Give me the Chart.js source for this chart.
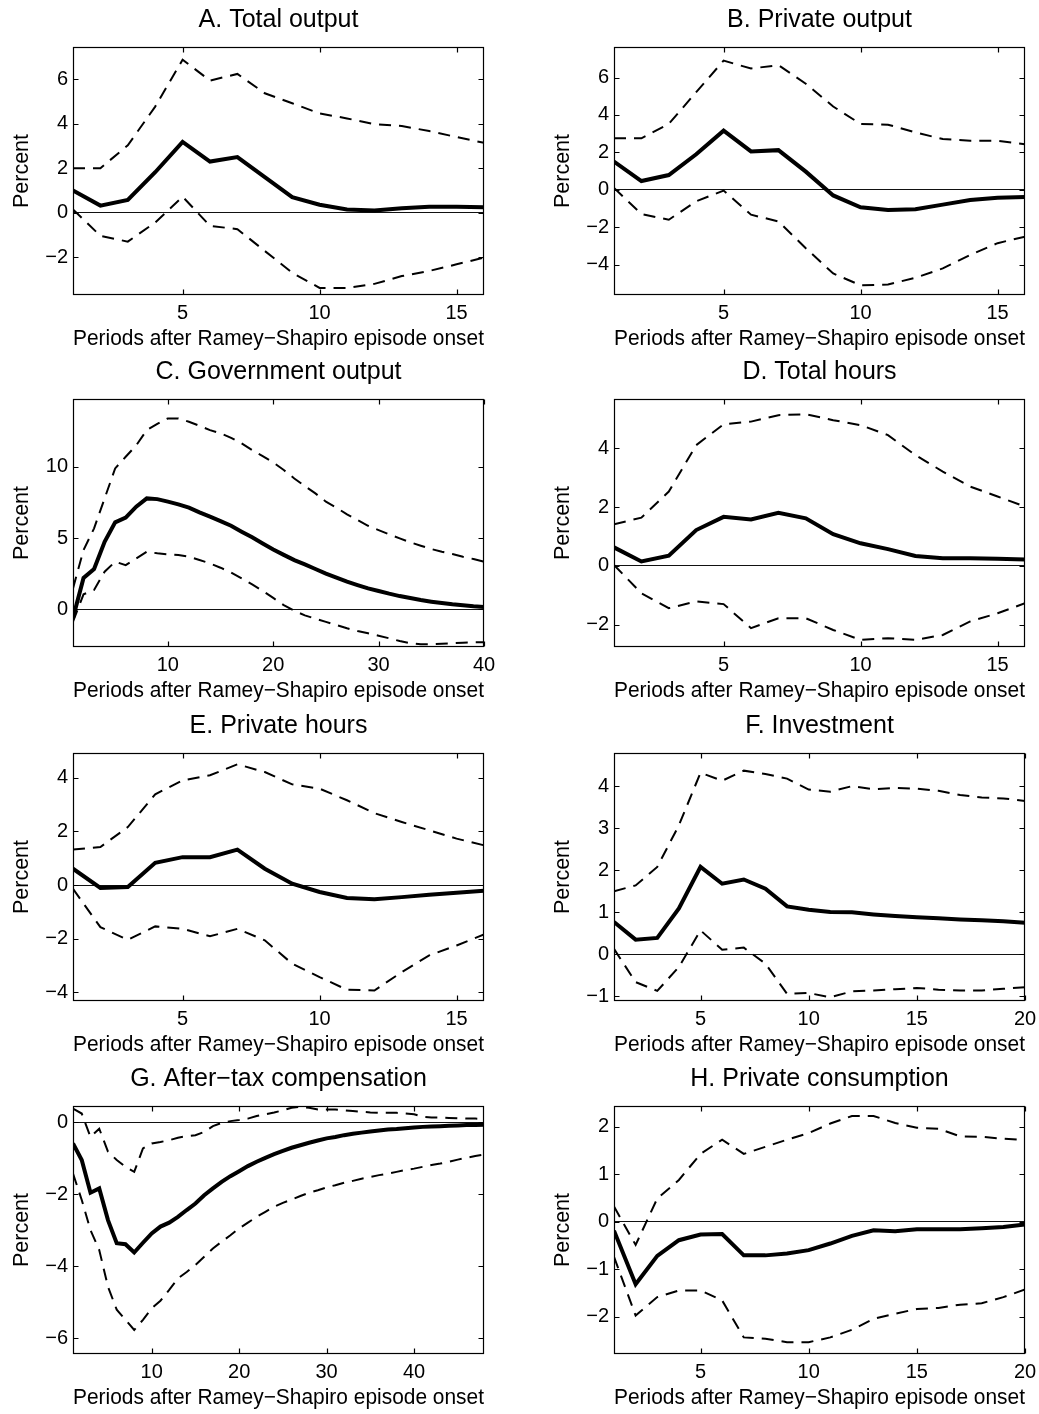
<!DOCTYPE html>
<html>
<head>
  <title>Responses after Ramey-Shapiro episodes</title>
  <script src="https://cdn.jsdelivr.net/npm/chart.js"></script>
  <style>
    body { margin: 0; background: #fff; }
    #page { position: relative; width: 1039px; height: 1414px; }
    #page canvas { position: absolute; }
  </style>
</head>
<body>
<div id="page"></div>
<script>
// point estimate (mid) and dashed bands (hi / lo), periods 1..N
const totalOutput      = [1.0, 0.32, 0.57, 1.82, 3.18, 2.3, 2.5, 1.6, 0.7, 0.36, 0.14, 0.1, 0.2, 0.27, 0.27, 0.25];
const totalOutputHi    = [2.0, 2.0, 3.03, 4.77, 6.88, 5.94, 6.24, 5.37, 4.92, 4.46, 4.24, 3.98, 3.9, 3.67, 3.4, 3.14];
const totalOutputLo    = [0.15, -1.04, -1.3, -0.44, 0.72, -0.59, -0.74, -1.72, -2.7, -3.38, -3.38, -3.2, -2.85, -2.62, -2.32, -2.02];

const privateOutput    = [1.51, 0.47, 0.79, 1.9, 3.16, 2.05, 2.12, 0.97, -0.3, -0.93, -1.08, -1.04, -0.79, -0.54, -0.43, -0.39];
const privateOutputHi  = [2.75, 2.75, 3.52, 5.22, 6.9, 6.48, 6.66, 5.67, 4.45, 3.52, 3.48, 3.07, 2.71, 2.62, 2.62, 2.44];
const privateOutputLo  = [0.1, -1.29, -1.6, -0.61, -0.04, -1.33, -1.69, -3.12, -4.47, -5.1, -5.06, -4.7, -4.2, -3.48, -2.85, -2.5];

const govOutput   = [-0.6, 2.2, 2.83, 4.74, 6.1, 6.43, 7.2, 7.78, 7.73, 7.55,
                     7.36, 7.13, 6.8, 6.5, 6.19, 5.86, 5.45, 5.05, 4.62, 4.2,
                     3.82, 3.45, 3.15, 2.83, 2.5, 2.22, 1.94, 1.7, 1.47, 1.29,
                     1.1, 0.93, 0.79, 0.65, 0.54, 0.44, 0.35, 0.28, 0.21, 0.16];
const govOutputHi = [1.47, 4.16, 5.68, 7.78, 9.88, 10.7, 11.5, 12.57, 13.0, 13.39,
                     13.39, 13.15, 12.87, 12.57, 12.34, 12.03, 11.64, 11.17, 10.75, 10.3,
                     9.77, 9.18, 8.64, 8.13, 7.55, 7.13, 6.66, 6.26, 5.86, 5.56,
                     5.26, 4.98, 4.7, 4.46, 4.23, 4.04, 3.88, 3.69, 3.53, 3.34];
const govOutputLo = [-0.86, 1.05, 1.36, 2.64, 3.34, 3.1, 3.57, 4.04, 3.93, 3.86,
                     3.81, 3.69, 3.46, 3.22, 2.92, 2.59, 2.17, 1.75, 1.3, 0.8,
                     0.3, -0.1, -0.42, -0.65, -0.88, -1.1, -1.33, -1.52, -1.68, -1.85,
                     -2.03, -2.22, -2.38, -2.45, -2.45, -2.41, -2.38, -2.34, -2.31, -2.31];

const totalHours   = [0.63, 0.15, 0.35, 1.22, 1.67, 1.58, 1.81, 1.62, 1.08, 0.77, 0.57, 0.34, 0.26, 0.26, 0.24, 0.22];
const totalHoursHi = [1.42, 1.64, 2.53, 4.11, 4.82, 4.91, 5.13, 5.16, 4.96, 4.79, 4.45, 3.77, 3.21, 2.7, 2.36, 2.02];
const totalHoursLo = [0.03, -0.93, -1.44, -1.21, -1.3, -2.12, -1.78, -1.78, -2.18, -2.52, -2.46, -2.52, -2.35, -1.89, -1.61, -1.27];

const privateHours   = [0.61, -0.11, -0.07, 0.83, 1.04, 1.04, 1.32, 0.61, 0.05, -0.26, -0.48, -0.53, -0.45, -0.36, -0.29, -0.21];
const privateHoursHi = [1.32, 1.42, 2.16, 3.38, 3.9, 4.09, 4.5, 4.21, 3.75, 3.59, 3.16, 2.68, 2.35, 2.04, 1.73, 1.48];
const privateHoursLo = [-0.14, -1.57, -2.04, -1.54, -1.63, -1.91, -1.63, -2.06, -2.93, -3.43, -3.9, -3.93, -3.24, -2.62, -2.25, -1.84];

const investment   = [0.77, 0.35, 0.39, 1.09, 2.08, 1.68, 1.78, 1.56, 1.14, 1.06, 1.01, 1.0, 0.95, 0.91, 0.88, 0.86, 0.83, 0.81, 0.79, 0.75];
const investmentHi = [1.5, 1.64, 2.08, 3.07, 4.32, 4.13, 4.37, 4.29, 4.18, 3.92, 3.87, 4.0, 3.93, 3.96, 3.94, 3.89, 3.79, 3.73, 3.71, 3.65];
const investmentLo = [0.13, -0.66, -0.87, -0.3, 0.57, 0.11, 0.16, -0.22, -0.94, -0.92, -1.02, -0.88, -0.86, -0.83, -0.8, -0.84, -0.86, -0.86, -0.82, -0.78];

const compensation   = [-0.59, -1.05, -1.96, -1.84, -2.72, -3.36, -3.39, -3.62, -3.35, -3.09,
                        -2.9, -2.79, -2.63, -2.44, -2.26, -2.03, -1.84, -1.66, -1.5, -1.36,
                        -1.22, -1.1, -0.99, -0.89, -0.8, -0.71, -0.64, -0.57, -0.51, -0.45,
                        -0.41, -0.36, -0.32, -0.29, -0.26, -0.23, -0.2, -0.19, -0.17, -0.15,
                        -0.13, -0.12, -0.11, -0.1, -0.09, -0.08, -0.08, -0.07];
const compensationHi = [0.38, 0.24, -0.41, -0.18, -0.82, -1.05, -1.24, -1.38, -0.73, -0.59,
                        -0.55, -0.5, -0.43, -0.39, -0.36, -0.27, -0.11, -0.02, 0.03, 0.06,
                        0.1, 0.17, 0.22, 0.27, 0.33, 0.4, 0.43, 0.4, 0.35, 0.35,
                        0.35, 0.33, 0.31, 0.29, 0.27, 0.26, 0.26, 0.26, 0.24, 0.22,
                        0.15, 0.13, 0.13, 0.12, 0.11, 0.1, 0.1, 0.09];
const compensationLo = [-1.43, -2.16, -3.0, -3.55, -4.57, -5.21, -5.49, -5.77, -5.49, -5.17,
                        -4.96, -4.66, -4.34, -4.16, -3.97, -3.74, -3.51, -3.32, -3.14, -2.95,
                        -2.79, -2.63, -2.49, -2.35, -2.24, -2.15, -2.05, -1.96, -1.89, -1.81,
                        -1.75, -1.68, -1.63, -1.57, -1.52, -1.47, -1.43, -1.38, -1.33, -1.29,
                        -1.24, -1.19, -1.15, -1.1, -1.04, -0.99, -0.94, -0.9];

const consumption   = [-0.19, -1.32, -0.72, -0.39, -0.27, -0.26, -0.71, -0.71, -0.67, -0.6, -0.46, -0.3, -0.18, -0.2, -0.16, -0.16, -0.16, -0.14, -0.11, -0.06];
const consumptionHi = [0.32, -0.49, 0.49, 0.88, 1.43, 1.73, 1.43, 1.58, 1.73, 1.87, 2.07, 2.23, 2.23, 2.08, 1.98, 1.96, 1.8, 1.79, 1.75, 1.72];
const consumptionLo = [-0.74, -1.98, -1.59, -1.45, -1.45, -1.66, -2.44, -2.47, -2.54, -2.54, -2.44, -2.28, -2.05, -1.94, -1.84, -1.82, -1.75, -1.72, -1.59, -1.43];

const titles = ['A. Total output', 'B. Private output', 'C. Government output', 'D. Total hours',
                'E. Private hours', 'F. Investment', 'G. After\u2212tax compensation', 'H. Private consumption'];
const xTitle = 'Periods after Ramey\u2212Shapiro episode onset';
const yTitle = 'Percent';

const xTicks16 = [5, 10, 15];
const xTicks20 = [5, 10, 15, 20];
const xTicks40 = [10, 20, 30, 40];
const xTicks48 = [10, 20, 30, 40];

const yTicksA = [-2, 0, 2, 4, 6];
const yTicksB = [-4, -2, 0, 2, 4, 6];
const yTicksC = [0, 5, 10];
const yTicksD = [-2, 0, 2, 4];
const yTicksE = [-4, -2, 0, 2, 4];
const yTicksF = [-1, 0, 1, 2, 3, 4];
const yTicksG = [-6, -4, -2, 0];
const yTicksH = [-2, -1, 0, 1, 2];

const panels = [
  { mid: totalOutput,   hi: totalOutputHi,   lo: totalOutputLo,   xMax: 16, xTicks: xTicks16, yMin: -3.7,  yMax: 7.45,  yTicks: yTicksA },
  { mid: privateOutput, hi: privateOutputHi, lo: privateOutputLo, xMax: 16, xTicks: xTicks16, yMin: -5.62, yMax: 7.63,  yTicks: yTicksB },
  { mid: govOutput,     hi: govOutputHi,     lo: govOutputLo,     xMax: 40, xTicks: xTicks40, yMin: -2.64, yMax: 14.75, yTicks: yTicksC },
  { mid: totalHours,    hi: totalHoursHi,    lo: totalHoursLo,    xMax: 16, xTicks: xTicks16, yMin: -2.76, yMax: 5.68,  yTicks: yTicksD },
  { mid: privateHours,  hi: privateHoursHi,  lo: privateHoursLo,  xMax: 16, xTicks: xTicks16, yMin: -4.32, yMax: 4.92,  yTicks: yTicksE },
  { mid: investment,    hi: investmentHi,    lo: investmentLo,    xMax: 20, xTicks: xTicks20, yMin: -1.11, yMax: 4.79,  yTicks: yTicksF },
  { mid: compensation,  hi: compensationHi,  lo: compensationLo,  xMax: 48, xTicks: xTicks48, yMin: -6.44, yMax: 0.45,  yTicks: yTicksG },
  { mid: consumption,   hi: consumptionHi,   lo: consumptionLo,   xMax: 20, xTicks: xTicks20, yMin: -2.79, yMax: 2.44,  yTicks: yTicksH }
];

const FONT = '"Liberation Sans", Arial, Helvetica, sans-serif';
const rowTops = [0, 352, 706, 1059];

function toPoints(arr) { return arr.map((v, i) => ({ x: i + 1, y: v })); }
function fmt(v) { return v < 0 ? '\u2212' + Math.abs(v) : String(v); }

// matlab style box with inward tick marks on all four sides
const frame = {
  id: 'frame',
  afterDatasetsDraw(chart) {
    const { ctx, chartArea: a, scales: { x, y } } = chart;
    const L = Math.round(a.left) + 0.5, R = Math.round(a.right) - 0.5;
    const T = Math.round(a.top) + 0.5, B = Math.round(a.bottom) - 0.5;
    ctx.save();
    ctx.strokeStyle = '#000';
    ctx.lineWidth = 1.2;
    ctx.strokeRect(L, T, R - L, B - T);
    ctx.beginPath();
    x.ticks.forEach(t => {
      const px = Math.round(x.getPixelForValue(t.value)) + 0.5;
      ctx.moveTo(px, B); ctx.lineTo(px, B - 5);
      ctx.moveTo(px, T); ctx.lineTo(px, T + 5);
    });
    y.ticks.forEach(t => {
      const py = Math.round(y.getPixelForValue(t.value)) + 0.5;
      ctx.moveTo(L, py); ctx.lineTo(L + 5, py);
      ctx.moveTo(R, py); ctx.lineTo(R - 5, py);
    });
    ctx.stroke();
    ctx.restore();
  }
};

const page = document.getElementById('page');

panels.forEach((p, i) => {
  const col = i % 2, row = Math.floor(i / 2);
  const canvas = document.createElement('canvas');
  canvas.width = col ? 519 : 520;
  canvas.height = 355;
  canvas.style.left = (col ? 520 : 0) + 'px';
  canvas.style.top = rowTops[row] + 'px';
  page.appendChild(canvas);

  const dashed = { borderColor: '#000', borderWidth: 2, borderDash: [12, 8], pointRadius: 0, tension: 0, fill: false };

  new Chart(canvas.getContext('2d'), {
    type: 'line',
    data: {
      datasets: [
        Object.assign({ data: toPoints(p.hi) }, dashed),
        Object.assign({ data: toPoints(p.lo) }, dashed),
        { data: toPoints(p.mid), borderColor: '#000', borderWidth: 4, pointRadius: 0, tension: 0, fill: false }
      ]
    },
    options: {
      responsive: false,
      animation: false,
      layout: { padding: { left: col ? 21 : 0, right: col ? 14 : 36, top: 0, bottom: 0 } },
      plugins: {
        legend: { display: false },
        tooltip: { enabled: false },
        title: {
          display: true, text: titles[i], color: '#000', fullSize: false,
          font: { family: FONT, size: 25, weight: 'normal' },
          padding: { top: 5, bottom: 12 }
        }
      },
      scales: {
        x: {
          type: 'linear', min: 1, max: p.xMax,
          afterBuildTicks: s => { s.ticks = p.xTicks.map(v => ({ value: v })); },
          afterFit: s => { s.height = 60; s.paddingLeft = 0; s.paddingRight = 0; },
          grid: { display: false, drawTicks: false },
          border: { display: false },
          ticks: { color: '#000', font: { family: FONT, size: 20 }, padding: 6, maxRotation: 0, autoSkip: false },
          title: { display: true, text: xTitle, color: '#000', font: { family: FONT, size: 21.5 }, padding: { top: 0, bottom: 3 } }
        },
        y: {
          min: p.yMin, max: p.yMax,
          afterBuildTicks: s => { s.ticks = p.yTicks.map(v => ({ value: v })); },
          afterFit: s => { s.width = 73; s.paddingTop = 0; s.paddingBottom = 0; },
          grid: {
            drawTicks: false, lineWidth: 1,
            color: c => (c.tick && c.tick.value === 0) ? '#111' : 'rgba(0,0,0,0)'
          },
          border: { display: false },
          ticks: { color: '#000', font: { family: FONT, size: 20 }, padding: 5, callback: fmt, autoSkip: false },
          title: { display: true, text: yTitle, color: '#000', font: { family: FONT, size: 21.5 }, padding: { top: 9, bottom: 0 } }
        }
      }
    },
    plugins: [frame]
  });
});
</script>
</body>
</html>
